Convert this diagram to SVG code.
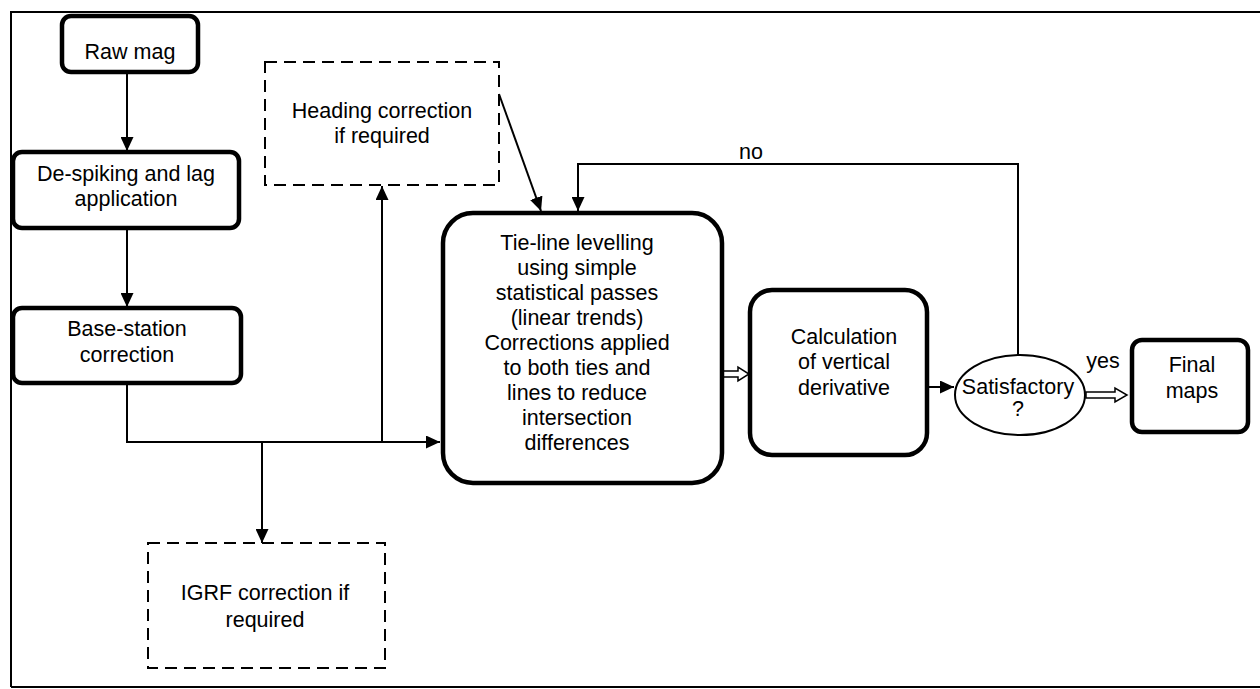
<svg xmlns="http://www.w3.org/2000/svg" width="1260" height="689" viewBox="0 0 1260 689">
<defs>
<marker id="ah" markerWidth="14" markerHeight="13" viewBox="0 0 14 13" refX="14" refY="6.5" orient="auto" markerUnits="userSpaceOnUse">
<path d="M0,0 L14,6.5 L0,13 Z" fill="#000"/>
</marker>
<style>
.box{fill:#fff;stroke:#000;stroke-width:4.5}
.dash{fill:#fff;stroke:#000;stroke-width:2;stroke-dasharray:12 7}
.ln{fill:none;stroke:#000;stroke-width:2}
.hol{fill:#fff;stroke:#000;stroke-width:1.5}
text{font-family:"Liberation Sans",Arial,sans-serif;font-size:21.5px;fill:#000;text-anchor:middle}
</style>
</defs>
<rect width="1260" height="689" fill="#fff"/>
<path d="M11,687 L11,12 L1260,12" fill="none" stroke="#000" stroke-width="2"/>
<line x1="11" y1="687" x2="1260" y2="687" stroke="#000" stroke-width="2"/>

<g id="connectors">
<line class="ln" x1="127" y1="72" x2="127" y2="151" marker-end="url(#ah)"/>
<line class="ln" x1="127" y1="228" x2="127" y2="307" marker-end="url(#ah)"/>
<polyline class="ln" points="127,383 127,442 440,442" marker-end="url(#ah)"/>
<line class="ln" x1="382" y1="442" x2="382" y2="186" marker-end="url(#ah)"/>
<line class="ln" x1="262" y1="442" x2="262" y2="543" marker-end="url(#ah)"/>
<line class="ln" x1="499" y1="94" x2="541" y2="211" marker-end="url(#ah)"/>
<polyline class="ln" points="1018,355 1018,164 578,164 578,211" marker-end="url(#ah)"/>
<line class="ln" x1="927" y1="387" x2="954" y2="387" marker-end="url(#ah)"/>
<polygon class="hol" points="723,371 738,371 738,367 749,374 738,381 738,377 723,377"/>
<polygon class="hol" points="1086,392 1115,392 1115,388 1127,395 1115,402 1115,398 1086,398"/>
<text x="751" y="159">no</text>
<text x="1103" y="368">yes</text>
</g>

<g id="raw-mag">
<rect class="box" x="62" y="16" width="136" height="56" rx="9"/>
<text x="130" y="59">Raw mag</text>
</g>

<g id="despiking">
<rect class="box" x="13" y="152" width="226" height="76" rx="9"/>
<text x="126" y="181">De-spiking and lag</text>
<text x="126" y="206">application</text>
</g>

<g id="base-station">
<rect class="box" x="13" y="308" width="228" height="75" rx="9"/>
<text x="127" y="336">Base-station</text>
<text x="127" y="362">correction</text>
</g>

<g id="heading">
<rect class="dash" x="265" y="62" width="234" height="123"/>
<text x="382" y="118">Heading correction</text>
<text x="382" y="143">if required</text>
</g>

<g id="igrf">
<rect class="dash" x="148" y="543" width="237" height="125"/>
<text x="265" y="600">IGRF correction if</text>
<text x="265" y="627">required</text>
</g>

<g id="tie-line">
<rect class="box" x="443" y="213" width="279" height="270" rx="30"/>
<text x="577" y="250">Tie-line levelling</text>
<text x="577" y="275">using simple</text>
<text x="577" y="300">statistical passes</text>
<text x="577" y="325">(linear trends)</text>
<text x="577" y="350">Corrections applied</text>
<text x="577" y="375">to both ties and</text>
<text x="577" y="400">lines to reduce</text>
<text x="577" y="425">intersection</text>
<text x="577" y="450">differences</text>
</g>

<g id="calc">
<rect class="box" x="750" y="290" width="177" height="165" rx="22"/>
<text x="844" y="344">Calculation</text>
<text x="844" y="369">of vertical</text>
<text x="844" y="395">derivative</text>
</g>

<g id="satisfactory">
<ellipse cx="1020" cy="395" rx="65" ry="40" fill="#fff" stroke="#000" stroke-width="2"/>
<text x="1018" y="394">Satisfactory</text>
<text x="1018" y="416">?</text>
</g>

<g id="final-maps">
<rect class="box" x="1132" y="340" width="116" height="92" rx="10"/>
<text x="1192" y="372">Final</text>
<text x="1192" y="398">maps</text>
</g>
</svg>
